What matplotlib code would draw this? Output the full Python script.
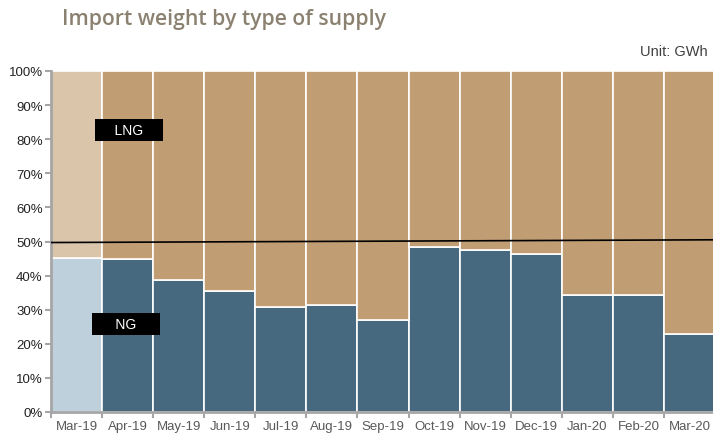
import matplotlib
matplotlib.use("Agg")
import matplotlib.pyplot as plt
import numpy as np

months = ["Mar-19", "Apr-19", "May-19", "Jun-19", "Jul-19", "Aug-19", "Sep-19",
          "Oct-19", "Nov-19", "Dec-19", "Jan-20", "Feb-20", "Mar-20"]
ng_share = [45.2, 44.9, 38.7, 35.5, 30.8, 31.4, 27.0, 48.4, 47.5, 46.3, 34.3, 34.2, 22.8]
lng_share = [100 - v for v in ng_share]
trend_start, trend_end = 49.7, 50.5
y_ticks = [0, 10, 20, 30, 40, 50, 60, 70, 80, 90, 100]

ng_col, lng_col = "#46697F", "#C19D74"
ng_fade, lng_fade = "#BED0DC", "#DBC5AA"

fig = plt.figure(figsize=(7.13, 4.35), dpi=100)
ax = fig.add_axes([51/713, 22/435, 664/713, 341/435])

x = np.arange(len(months))
ngc = [ng_fade if i == 0 else ng_col for i in x]
lngc = [lng_fade if i == 0 else lng_col for i in x]
ax.bar(x, ng_share, width=1.0, color=ngc, edgecolor="white", linewidth=1.2)
ax.bar(x, lng_share, bottom=ng_share, width=1.0, color=lngc, edgecolor="white", linewidth=1.2)

ax.plot([-0.5, len(months) - 0.5], [trend_start, trend_end], color="black", lw=1.2, zorder=5)

ax.set_xlim(-0.5, len(months) - 0.5)
ax.set_ylim(0, 100)
ax.set_yticks(y_ticks)
ax.set_yticklabels([f"{t}%" for t in y_ticks], fontsize=9.5, color="#222222", family="Liberation Sans")
ax.set_xticks(x)
ax.set_xticklabels(months, fontsize=9.5, color="#595959", family="Liberation Sans")
ax.set_xticks(np.arange(len(months) + 1) - 0.5, minor=True)
ax.tick_params(axis="x", which="major", length=0, pad=6)
ax.tick_params(axis="x", which="minor", length=4, color="#A6A6A6", width=1.5)
ax.tick_params(axis="y", length=4, color="#A6A6A6", width=1.5, pad=2)
for s in ["top", "right"]:
    ax.spines[s].set_visible(False)
for s in ["left", "bottom"]:
    ax.spines[s].set_color("#A6A6A6")
    ax.spines[s].set_linewidth(2)

bbox = dict(boxstyle="square,pad=0.3", facecolor="black", edgecolor="none")
ax.text(1.03, 82.7, "    LNG    ", ha="center", va="center", color="white", fontsize=10,
        family="Liberation Sans", bbox=bbox, zorder=6)
ax.text(0.96, 25.8, "     NG     ", ha="center", va="center", color="white", fontsize=10,
        family="Liberation Sans", bbox=bbox, zorder=6)

fig.text(62/713, 1 - 20/435, "Import weight by type of supply", fontsize=15.2, color="#8B8170",
         family="Open Sans", fontweight="semibold", va="center", ha="left")
fig.text(708/713, 1 - 52/435, "Unit: GWh", fontsize=10.5, color="#404040",
         family="Liberation Sans", va="center", ha="right")

fig.savefig("out.png", dpi=100)
